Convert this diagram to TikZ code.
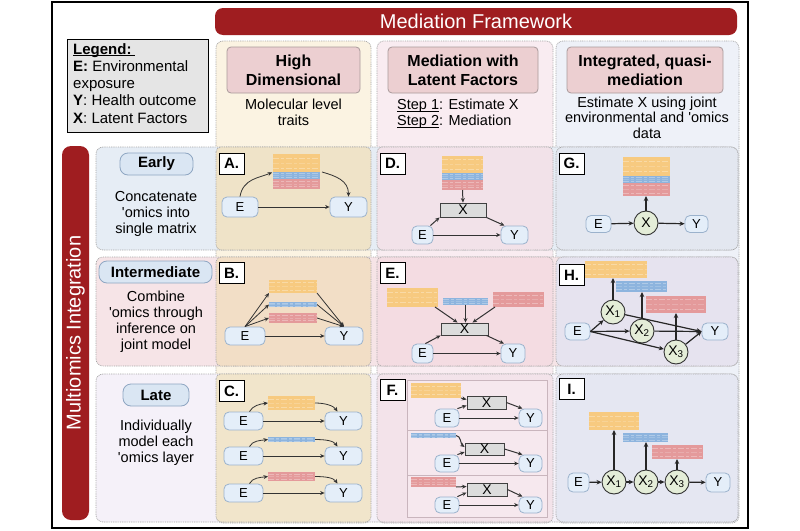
\documentclass[tikz,border=0pt]{standalone}
\usepackage{fontspec}
\setmainfont{Liberation Sans}
\usetikzlibrary{arrows.meta,calc}
\newcommand\fs[2]{\fontsize{#1}{#2}\selectfont}
\newcommand\myul[1]{\setbox0\hbox{#1}\rlap{\rule[-2pt]{\wd0}{0.7pt}}\box0}
\definecolor{bannerred}{HTML}{9F1D20}
\definecolor{leggray}{HTML}{E5E5E5}
\definecolor{cOnehead}{HTML}{FBF3E2}
\definecolor{cTwohead}{HTML}{F9ECF1}
\definecolor{cThreehead}{HTML}{EEF1F8}
\definecolor{rOne}{HTML}{E6EDF5}
\definecolor{rTwo}{HTML}{F6E4E7}
\definecolor{rThree}{HTML}{F5F1F9}
\definecolor{cellA}{HTML}{EFE3C8}
\definecolor{cellB}{HTML}{F2DEC6}
\definecolor{cellC}{HTML}{F1E5CB}
\definecolor{cellD}{HTML}{F2E2E9}
\definecolor{cellE}{HTML}{F4DCE2}
\definecolor{cellF}{HTML}{F3E3EA}
\definecolor{cellG}{HTML}{E3E7F0}
\definecolor{cellH}{HTML}{E6E3EF}
\definecolor{cellI}{HTML}{E5E7F2}
\definecolor{hdrfill}{HTML}{ECCFD1}
\definecolor{hdrbd}{HTML}{A99A9B}
\definecolor{rpillfill}{HTML}{DAE6F3}
\definecolor{rpillbd}{HTML}{8EA6C2}
\definecolor{pillfill}{HTML}{E4EEF9}
\definecolor{pillbd}{HTML}{9BB2CC}
\definecolor{xgray}{HTML}{DCDCDC}
\definecolor{xgreen}{HTML}{E4EDD8}
\definecolor{yel}{HTML}{F7CA80}
\definecolor{blu}{HTML}{8DB4DE}
\definecolor{red}{HTML}{E49A9B}
\definecolor{fsub}{HTML}{F6E8EE}
\definecolor{fsubbd}{HTML}{C9B5BD}
\begin{document}
\begin{tikzpicture}[x=1pt,y=-1pt,
  dotb/.style={draw=black!35, line width=0.7pt, dash pattern=on 0.9pt off 0.9pt},
  arr/.style={-{Stealth[length=4.5pt,width=4pt]}, line width=0.8pt, draw=black!80},
  arrm/.style={-{Stealth[length=4.5pt,width=4pt]}, line width=1pt, draw=black!80},
  arrb/.style={-{Stealth[length=5pt,width=4.5pt]}, line width=1.2pt, draw=black!85},
  pill/.style={draw=pillbd, fill=pillfill, rounded corners=5pt, line width=0.8pt, inner sep=0pt, font=\fs{13}{13}},
  xc/.style={circle, draw=black!80, fill=xgreen, line width=0.9pt, minimum size=24pt, inner sep=0pt, font=\fs{14}{14}},
  xb/.style={draw=black!75, fill=xgray, line width=0.9pt, inner sep=0pt, font=\fs{14}{14}},
  hdr/.style={draw=hdrbd, fill=hdrfill, rounded corners=4pt, line width=0.8pt, align=center, inner sep=0pt, font=\bfseries\fs{16}{19}},
  rpill/.style={draw=rpillbd, fill=rpillfill, rounded corners=8pt, line width=0.8pt, inner sep=0pt, font=\bfseries\fs{15}{15}},
  plab/.style={draw=black, fill=white, line width=1pt, minimum width=25pt, minimum height=21pt, inner sep=0pt, font=\bfseries\fs{15}{15}},
  desc/.style={align=center, anchor=north, inner sep=0pt, font=\fs{14.5}{16}},
  strip/.style={inner sep=0pt, outer sep=0pt, path picture={
    \foreach \f/\o in {0.22/0.3,0.5/0.18,0.78/0.3}{
      \draw[white, opacity=\o, line width=0.8pt, dash pattern=on 6pt off 2pt on 3pt off 2pt]
        ($(path picture bounding box.north west)!\f!(path picture bounding box.south west)$) --
        ($(path picture bounding box.north east)!\f!(path picture bounding box.south east)$);}
  }},
]
\fill[white] (0,0) rectangle (800,530);
\useasboundingbox (0,0) rectangle (800,530);

% columns
\draw[dotb, fill=cOnehead, rounded corners=7pt] (216,41) rectangle (371,523);
\draw[dotb, fill=cTwohead, rounded corners=7pt] (377,41) rectangle (553,523);
\draw[dotb, fill=cThreehead, rounded corners=7pt] (556,41) rectangle (739,523);

% rows
\draw[dotb, fill=rOne, rounded corners=7pt] (96,147) rectangle (738,250);
\draw[dotb, fill=rTwo, rounded corners=7pt] (96,257) rectangle (738,366);
\draw[dotb, fill=rThree, rounded corners=7pt] (96,374) rectangle (738,522);

% cells
\draw[dotb, fill=cellA, rounded corners=5pt] (216,147) rectangle (371,250);
\draw[dotb, fill=cellD, rounded corners=5pt] (377,147) rectangle (553,250);
\draw[dotb, fill=cellG, rounded corners=7pt] (556,147) rectangle (738,250);
\draw[dotb, fill=cellB, rounded corners=5pt] (216,257) rectangle (371,366);
\draw[dotb, fill=cellE, rounded corners=5pt] (377,257) rectangle (553,366);
\draw[dotb, fill=cellH, rounded corners=7pt] (556,257) rectangle (738,366);
\draw[dotb, fill=cellC, rounded corners=5pt] (216,374) rectangle (371,522);
\draw[dotb, fill=cellF, rounded corners=5pt] (377,374) rectangle (553,522);
\draw[dotb, fill=cellI, rounded corners=7pt] (556,374) rectangle (738,522);

% frame
\draw[line width=2pt] (52,2) rectangle (748,528);

% banners
\node[fill=bannerred, rounded corners=8pt, minimum width=522pt, minimum height=27pt, inner sep=0pt, text=white, font=\fs{20}{20}] (mf) at (476,21.5) {Mediation Framework};
\node[fill=bannerred, rounded corners=9pt, rotate=90, minimum width=374pt, minimum height=27pt, inner sep=0pt, text=white, font=\fs{20}{20}] (mi) at (75.5,333) {Multiomics Integration};

% legend
\node[draw=black, fill=leggray, line width=1pt, minimum width=141pt, minimum height=93pt, anchor=north west, inner sep=0pt] (leg) at (67,39) {};
\node[anchor=north west, align=left, inner sep=0pt, font=\fs{15}{17.3}] (legt) at (73,43) {\myul{\textbf{Legend:}\hspace{3pt}}\\\textbf{E:} Environmental\\exposure\\\textbf{Y}: Health outcome\\\textbf{X}: Latent Factors};

% column headers
\node[hdr, minimum width=133pt, minimum height=46pt] (h1) at (293.5,70) {High\\Dimensional};
\node[hdr, minimum width=150pt, minimum height=46pt] (h2) at (463,70) {Mediation with\\Latent Factors};
\node[hdr, minimum width=156pt, minimum height=46pt] (h3) at (645,70) {Integrated, quasi-\\mediation};
\node[desc] (s1) at (293.5,99) {Molecular level\\traits};
\node[desc, align=left, anchor=north west] (s2) at (397,99) {\myul{Step 1}: Estimate X\\\myul{Step 2}: Mediation};
\node[desc, font=\fs{14.5}{15.7}] (s3) at (647,96.5) {Estimate X using joint\\environmental and \textquotesingle omics\\data};

% row labels
\node[rpill, minimum width=73pt, minimum height=22pt] (rp1) at (156.5,164) {Early};
\node[rpill, minimum width=113pt, minimum height=22pt] (rp2) at (155.5,272) {Intermediate};
\node[rpill, minimum width=66pt, minimum height=22pt] (rp3) at (156,395) {Late};
\node[desc] (d1) at (156,191) {Concatenate\\\textquotesingle omics into\\single matrix};
\node[desc] (d2) at (156,291) {Combine\\\textquotesingle omics through\\inference on\\joint model};
\node[desc] (d3) at (156,420) {Individually\\model each\\\textquotesingle omics layer};

% panel letters
\node[plab] (pA) at (231.5,163.5) {A.};
\node[plab] (pD) at (392.5,163.5) {D.};
\node[plab] (pG) at (571.5,163.5) {G.};
\node[plab] (pB) at (231.5,273) {B.};
\node[plab] (pE) at (392.5,273) {E.};
\node[plab] (pH) at (571.5,275) {H.};
\node[plab] (pC) at (231.5,391) {C.};
\node[plab] (pF) at (392.5,390) {F.};
\node[plab] (pI) at (571.5,389) {I.};

% ---------- Panel A
\node[strip, fill=yel, minimum width=47pt, minimum height=18pt] (aYel) at (296.5,163) {};
\node[strip, fill=blu, minimum width=47pt, minimum height=7pt] (aBlu) at (296.5,175.5) {};
\node[strip, fill=red, minimum width=47pt, minimum height=10pt] (aRed) at (296.5,184) {};
\node[pill, minimum width=36pt, minimum height=20pt] (aE) at (240,207) {E};
\node[pill, minimum width=37pt, minimum height=20pt] (aY) at (348.5,207) {Y};
\draw[arr] (aE.east) -- (aY.west);
\draw[arr, shorten >=1pt] (aE.north) .. controls +(3,-18) and +(-14,6) .. (aBlu.north west);
\draw[arr] ([xshift=2pt]aBlu.north east) .. controls +(14,4) and +(0,-16) .. (aY.north);

% ---------- Panel D
\node[strip, fill=yel, minimum width=41pt, minimum height=17pt] (dYel) at (462.5,164.5) {};
\node[strip, fill=blu, minimum width=41pt, minimum height=7pt] (dBlu) at (462.5,176.5) {};
\node[strip, fill=red, minimum width=41pt, minimum height=10pt] (dRed) at (462.5,185) {};
\node[xb, minimum width=46pt, minimum height=14pt] (dX) at (463,210) {X};
\node[pill, minimum width=21pt, minimum height=18pt] (dE) at (422.5,235) {E};
\node[pill, minimum width=27pt, minimum height=18pt] (dY) at (514.5,235) {Y};
\draw[arrm] (dRed.south) -- (dX.north);
\draw[arrm] ([xshift=-3pt]dE.north east) -- (dX.south west);
\draw[arrm] (dX.south east) -- ([xshift=-10pt]dY.north);
\draw[arrm] (dE.east) -- (dY.west);

% ---------- Panel G
\node[strip, fill=yel, minimum width=47pt, minimum height=19pt] (gYel) at (646.5,166.5) {};
\node[strip, fill=blu, minimum width=47pt, minimum height=7pt] (gBlu) at (646.5,179.5) {};
\node[strip, fill=red, minimum width=47pt, minimum height=13pt] (gRed) at (646.5,189.5) {};
\node[xc] (gX) at (646,223) {X};
\node[pill, minimum width=25pt, minimum height=17pt] (gE) at (598.5,224) {E};
\node[pill, minimum width=23pt, minimum height=17pt] (gY) at (696.5,224) {Y};
\draw[arrb] (gE) -- (gX);
\draw[arrb] (gX) -- (gY);
\draw[arrb] (gX.north) -- (gX.north |- gRed.south);

% ---------- Panel B
\node[strip, fill=yel, minimum width=48pt, minimum height=13pt] (bYel) at (293,286.5) {};
\node[strip, fill=blu, minimum width=48pt, minimum height=5pt] (bBlu) at (293,304.5) {};
\node[strip, fill=red, minimum width=48pt, minimum height=10pt] (bRed) at (293,318) {};
\node[pill, minimum width=40pt, minimum height=18pt] (bE) at (245,336) {E};
\node[pill, minimum width=38pt, minimum height=18pt] (bY) at (344,336) {Y};
\draw[arr] (bE.east) -- (bY.west);
\draw[arr] (bE.north) -- (bYel.south west);
\draw[arr] (bE.north) -- (bBlu.west);
\draw[arr] (bE.north) -- (bRed.west);
\draw[arr] (bYel.south east) -- (bY.north);
\draw[arr] (bBlu.east) -- (bY.north);
\draw[arr] (bRed.east) -- (bY.north);

% ---------- Panel C
\node[strip, fill=yel, minimum width=47pt, minimum height=14pt] (cS1) at (291.5,403) {};
\node[strip, fill=blu, minimum width=47pt, minimum height=5pt] (cS2) at (291.5,439.5) {};
\node[strip, fill=red, minimum width=47pt, minimum height=9pt] (cS3) at (291.5,476.5) {};
\node[pill, minimum width=39pt, minimum height=18pt] (cE1) at (243.5,421) {E};
\node[pill, minimum width=37pt, minimum height=18pt] (cY1) at (343.5,421) {Y};
\node[pill, minimum width=39pt, minimum height=18pt] (cE2) at (243.5,456) {E};
\node[pill, minimum width=37pt, minimum height=18pt] (cY2) at (343.5,456) {Y};
\node[pill, minimum width=39pt, minimum height=18pt] (cE3) at (243.5,493) {E};
\node[pill, minimum width=37pt, minimum height=18pt] (cY3) at (343.5,493) {Y};
\foreach \k in {1,2,3}{
  \draw[arr] (cE\k.east) -- (cY\k.west);
  \draw[arr] ([xshift=6pt]cE\k.north) .. controls +(3,-6) and +(-8,1) .. (cS\k.west);
  \draw[arr] (cS\k.east) .. controls +(10,0) and +(-4,-6) .. ([xshift=-6pt]cY\k.north);
}

% ---------- Panel E
\node[strip, fill=yel, minimum width=51pt, minimum height=19pt] (eYel) at (412.5,297.5) {};
\node[strip, fill=blu, minimum width=45pt, minimum height=7pt] (eBlu) at (465.5,301.5) {};
\node[strip, fill=red, minimum width=51pt, minimum height=15pt] (eRed) at (518.5,299.5) {};
\node[xb, minimum width=47pt, minimum height=12pt] (eX) at (464.5,329) {X};
\node[pill, minimum width=21pt, minimum height=19pt] (eE) at (422.5,353.5) {E};
\node[pill, minimum width=24pt, minimum height=19pt] (eY) at (513,353.5) {Y};
\draw[arrm] ([xshift=-3pt]eYel.south east) -- ([xshift=-7pt]eX.north);
\draw[arrm] (eBlu.south) -- (eBlu.south |- eX.north);
\draw[arrm] ([xshift=2pt]eRed.south west) -- ([xshift=8pt]eX.north);
\draw[arrm] ([xshift=-8pt]eE.north east) -- (eX.south west);
\draw[arrm] ([xshift=-2pt]eX.south east) -- ([xshift=-9pt]eY.north);
\draw[arrm] (eE.east) -- (eY.west);

% ---------- Panel F
\draw[fill=fsub, draw=fsubbd, line width=0.6pt] (407,380) rectangle (547,517);
\draw[fsubbd, line width=0.6pt] (407,430) -- (547,430);
\draw[fsubbd, line width=0.6pt] (407,475) -- (547,475);
\node[strip, fill=yel, minimum width=50pt, minimum height=15pt] (fS1) at (436,390.5) {};
\node[xb, minimum width=39pt, minimum height=13pt] (fX1) at (486.5,402.5) {X};
\node[pill, minimum width=24pt, minimum height=18pt] (fE1) at (447,418) {E};
\node[pill, minimum width=23pt, minimum height=18pt] (fY1) at (530.5,418) {Y};
\node[strip, fill=blu, minimum width=45pt, minimum height=5pt] (fS2) at (433.5,435.5) {};
\node[xb, minimum width=39pt, minimum height=12pt] (fX2) at (484.5,449) {X};
\node[pill, minimum width=24pt, minimum height=17pt] (fE2) at (447,463.5) {E};
\node[pill, minimum width=23pt, minimum height=17pt] (fY2) at (530.5,463.5) {Y};
\node[strip, fill=red, minimum width=45pt, minimum height=10pt] (fS3) at (433.5,482) {};
\node[xb, minimum width=40pt, minimum height=13pt] (fX3) at (487,489.5) {X};
\node[pill, minimum width=24pt, minimum height=16pt] (fE3) at (447,505) {E};
\node[pill, minimum width=23pt, minimum height=16pt] (fY3) at (530.5,505) {Y};
\draw[arrm] (fS1.south east) -- ([yshift=3pt]fX1.west);
\draw[arrm] (fS2.east) .. controls +(5,0) and +(-4,-3) .. ([yshift=2pt]fX2.west);
\draw[arrm] (fS3.south east) -- ([yshift=3pt]fX3.west);
\foreach \k in {1,2,3}{
  \draw[arrm] ([xshift=-2pt]fE\k.north east) -- ([yshift=-3pt]fX\k.west);
  \draw[arrm] (fX\k.east) -- ([xshift=-8pt]fY\k.north);
  \draw[arrm] (fE\k.east) -- (fY\k.west);
}

% ---------- Panel H
\node[strip, fill=yel, minimum width=62pt, minimum height=17pt] (hYel) at (616,269.5) {};
\node[strip, fill=blu, minimum width=51pt, minimum height=11pt] (hBlu) at (641.5,286.5) {};
\node[strip, fill=red, minimum width=60pt, minimum height=17pt] (hRed) at (676,304.5) {};
\node[pill, minimum width=25pt, minimum height=17pt] (hE) at (577.5,331.5) {E};
\node[pill, minimum width=26pt, minimum height=17pt] (hY) at (715,331.5) {Y};
\node[xc] (hX1) at (613,312) {X\textsubscript{1}};
\node[xc] (hX2) at (642,331) {X\textsubscript{2}};
\node[xc] (hX3) at (676,352) {X\textsubscript{3}};
\draw[arrb] (hX1.north) -- (hX1.north |- hYel.south);
\draw[arrb] (hX2.north) -- (hX2.north |- hBlu.south);
\draw[arrb] (hX3.north) -- (hX3.north |- hRed.south);
\draw[arrb] (hE.east) -- (hX1);
\draw[arrb] (hE.east) -- (hX2);
\draw[arrb] (hE.east) -- (hX3);
\draw[arrb] (hX1) -- (hY.west);
\draw[arrb] (hX2) -- (hY.west);
\draw[arrb] (hX3) -- (hY.west);

% ---------- Panel I
\node[strip, fill=yel, minimum width=50pt, minimum height=18pt] (iYel) at (614,421) {};
\node[strip, fill=blu, minimum width=45pt, minimum height=9pt] (iBlu) at (645.5,437.5) {};
\node[strip, fill=red, minimum width=51pt, minimum height=14pt] (iRed) at (677.5,452) {};
\node[pill, minimum width=21pt, minimum height=19pt] (iE) at (578.5,482.5) {E};
\node[xc] (iX1) at (614,482) {X\textsubscript{1}};
\node[xc] (iX2) at (646,482) {X\textsubscript{2}};
\node[xc] (iX3) at (677,482) {X\textsubscript{3}};
\node[pill, minimum width=24pt, minimum height=19pt] (iY) at (718,482.5) {Y};
\draw[arrb] (iE) -- (iX1);
\draw[arrb] (iX1) -- (iX2);
\draw[arrb] (iX2) -- (iX3);
\draw[arrb] (iX3) -- (iY);
\draw[arrb] (iX1.north) -- (iX1.north |- iYel.south);
\draw[arrb] (iX2.north) -- (iX2.north |- iBlu.south);
\draw[arrb] (iX3.north) -- (iX3.north |- iRed.south);
\end{tikzpicture}
\end{document}
